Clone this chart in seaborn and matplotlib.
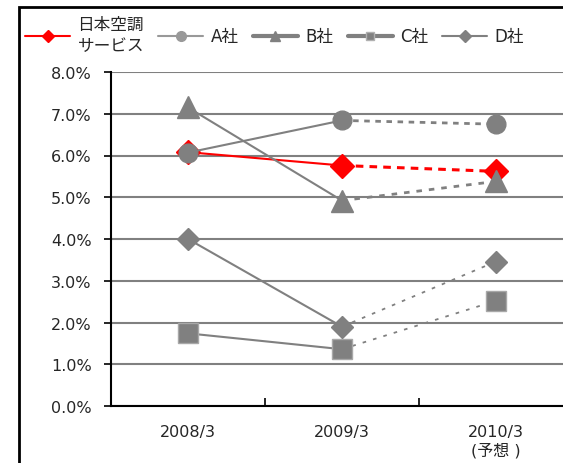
import numpy as np
import pandas as pd
import matplotlib
matplotlib.use("Agg")
import matplotlib.pyplot as plt
import seaborn as sns
from matplotlib.lines import Line2D
from matplotlib.patches import Rectangle
from matplotlib.ticker import FuncFormatter, FixedLocator

# --- data (operating margin, %) ---
periods = ["2008/3", "2009/3", "2010/3\n(予想 )"]
japan = [6.08, 5.76, 5.62]
a_sha = [6.07, 6.84, 6.75]
b_sha = [7.15, 4.92, 5.38]
c_sha = [1.74, 1.36, 2.52]
d_sha = [4.00, 1.90, 3.46]
names = ["日本空調\nサービス", "A社", "B社", "C社", "D社"]

sns.set_style("white")
plt.rcParams["font.family"] = ["DejaVu Sans", "Noto Sans CJK JP"]
plt.rcParams["font.size"] = 11.5

fig = plt.figure(figsize=(5.63, 4.64), dpi=100)
ax = fig.add_axes([111 / 563, 1 - 407 / 464, 462 / 563, (407 - 73) / 464])

x = np.arange(len(periods))
gray = "#808080"

# series styles: values, color, marker, marker size, line width, forecast dash, dash width, edge
styles = [
    (japan, "red", "D", 12, 1.5, (0, (2.5, 2)), 2.2, "red"),
    (a_sha, gray, "o", 13.5, 1.5, (0, (2, 2)), 2.0, gray),
    (b_sha, gray, "^", 16, 1.5, (0, (2, 2.5)), 2.0, gray),
    (c_sha, gray, "s", 15, 1.5, (0, (2, 4)), 1.3, "#a8a8a8"),
    (d_sha, gray, "D", 11, 1.5, (0, (2, 4)), 1.3, gray),
]

for i, (vals, col, mk, ms, lw, dash, dlw, ec) in enumerate(styles):
    df = pd.DataFrame({"x": x, "y": vals})
    z = 3 + i
    # actual results: solid, forecast: dotted
    sns.lineplot(data=df.iloc[:2], x="x", y="y", color=col, lw=lw, ax=ax, zorder=z)
    sns.lineplot(data=df.iloc[1:], x="x", y="y", color=col, lw=dlw, ax=ax,
                 linestyle=dash, zorder=z)
    sns.lineplot(data=df, x="x", y="y", color=col, lw=0, marker=mk, markersize=ms,
                 markeredgecolor=ec, markeredgewidth=1.0, ax=ax, zorder=z + 0.5)

ax.set_xlim(-0.5, 2.5)
ax.set_ylim(0, 8)
ax.set_xlabel("")
ax.set_ylabel("")

ax.yaxis.set_major_locator(FixedLocator(np.arange(0, 9, 1)))
ax.yaxis.set_major_formatter(FuncFormatter(lambda v, p: f"{v:.1f}%"))
ax.set_xticks(x)
ax.set_xticklabels(periods)
ax.xaxis.set_minor_locator(FixedLocator([0.5, 1.5]))

ax.tick_params(axis="y", which="major", direction="out", length=5, width=1.2,
               color="black", labelsize=11.5, pad=9, left=True)
ax.tick_params(axis="x", which="major", length=0, pad=13, labelsize=11.5)
ax.tick_params(axis="x", which="minor", direction="in", length=6, width=1.2,
               color="black", bottom=True)

ax.grid(axis="y", color=gray, lw=1.5)
ax.grid(axis="x", visible=False)
for s in ["top", "right"]:
    ax.spines[s].set_visible(False)
for s in ["left", "bottom"]:
    ax.spines[s].set_color("black")
    ax.spines[s].set_linewidth(1.5)
    ax.spines[s].set_zorder(10)

# legend
handles = [
    Line2D([], [], color="red", lw=1.5, marker="D", markersize=6),
    Line2D([], [], color="#999999", lw=1.5, marker="o", markersize=7),
    Line2D([], [], color=gray, lw=3, marker="^", markersize=7),
    Line2D([], [], color=gray, lw=3, marker="s", markersize=6,
           markeredgecolor="#b0b0b0"),
    Line2D([], [], color=gray, lw=1.5, marker="D", markersize=6),
]
fig.legend(handles, names, loc="upper left", bbox_to_anchor=(25 / 563, 1 - 16 / 464),
           ncol=5, frameon=False, handlelength=2.7, handletextpad=0.45,
           columnspacing=0.85, borderaxespad=0, fontsize=12,
           borderpad=0, labelspacing=0)

# outer frame
fig.patches.append(Rectangle((19 / 563, -0.1), 1.2, 1.1 - 8 / 464,
                             transform=fig.transFigure, fill=False,
                             lw=2, edgecolor="black"))

fig.savefig("out.png", dpi=100)
